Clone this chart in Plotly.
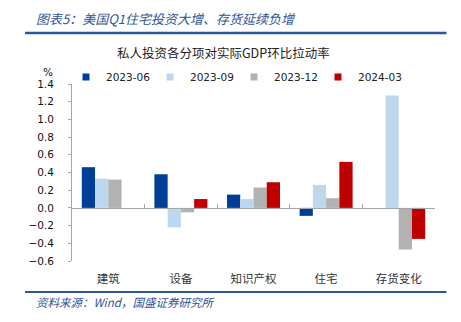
import plotly.graph_objects as go

categories = ["建筑", "设备", "知识产权", "住宅", "存货变化"]
series_names = ["2023-06", "2023-09", "2023-12", "2024-03"]
v_2023_06 = [0.46, 0.38, 0.15, -0.09, None]
v_2023_09 = [0.33, -0.22, 0.10, 0.26, 1.27]
v_2023_12 = [0.32, -0.05, 0.23, 0.11, -0.47]
v_2024_03 = [None, 0.10, 0.29, 0.52, -0.35]
series_values = [v_2023_06, v_2023_09, v_2023_12, v_2024_03]
colors = ["#003f98", "#bdd7ee", "#b2b2b2", "#c00000"]

title_text = "图表5：美国Q1住宅投资大增、存货延续负增"
subtitle_text = "私人投资各分项对实际GDP环比拉动率"
source_text = "资料来源：Wind，国盛证券研究所"
unit_text = "%"

W, H = 461, 322
L, R, T, B = 72, 25.5, 84, 61
pw, ph = W - L - R, H - T - B

num_font = "DejaVu Sans"
cjk_font = "Noto Sans CJK SC"
blue = "#2f5597"
axis_gray = "#a6a6a6"

fig = go.Figure()
for name, vals, c in zip(series_names, series_values, colors):
    fig.add_trace(go.Bar(x=categories, y=vals, name=name, marker=dict(color=c, line=dict(width=0)),
                         showlegend=False))
# legend entries with small square markers
for name, c in zip(series_names, colors):
    fig.add_trace(go.Scatter(x=[None], y=[None], mode="markers", name=name,
                             marker=dict(symbol="square", size=7, color=c)))
# helper axis for the zero line with category boundary ticks
fig.add_trace(go.Scatter(x=[None], y=[None], xaxis="x2", showlegend=False, hoverinfo="skip"))

def px_x(p):
    return (p - L) / pw

def px_y(p):
    return 1 - (p - T) / ph

fig.update_layout(
    width=W, height=H,
    margin=dict(l=L, r=R, t=T, b=B),
    paper_bgcolor="white", plot_bgcolor="white",
    barmode="group", bargap=0.27, bargroupgap=0,
    showlegend=True,
    legend=dict(orientation="h", x=px_x(66), xanchor="left", y=px_y(77), yanchor="middle",
                font=dict(family=num_font, size=10.5, color="#222"),
                entrywidth=39, entrywidthmode="pixels", itemwidth=30,
                bgcolor="rgba(0,0,0,0)", tracegroupgap=0),
    xaxis=dict(type="category", showline=False, ticks="", showgrid=False, zeroline=False,
               ticklabelstandoff=9,
               tickfont=dict(family=cjk_font, size=11.5, color="#333"), range=[-0.5, 4.5]),
    xaxis2=dict(overlaying="x", anchor="free", position=0.3, range=[-0.5, 4.5],
                tickvals=[-0.5, 0.5, 1.5, 2.5, 3.5, 4.5], ticks="inside", ticklen=4,
                tickcolor=axis_gray, showline=True, linecolor=axis_gray, linewidth=1,
                showticklabels=False, showgrid=False, zeroline=False),
    yaxis=dict(range=[-0.6, 1.4], dtick=0.2, tickformat=".1f", showgrid=False, zeroline=False,
               showline=True, linecolor=axis_gray, linewidth=1, ticks="outside", ticklen=3,
               tickcolor=axis_gray, ticklabelstandoff=12,
               tickfont=dict(family=num_font, size=10.5, color="#111")),
    font=dict(family=num_font),
)

fig.add_annotation(text=title_text, xref="paper", yref="paper", x=px_x(34), y=px_y(18),
                   xanchor="left", yanchor="middle", showarrow=False,
                   font=dict(family=cjk_font, size=13, color=blue, style="italic"))
fig.add_annotation(text=subtitle_text, xref="paper", yref="paper", x=px_x(224), y=px_y(53),
                   xanchor="center", yanchor="middle", showarrow=False,
                   font=dict(family=cjk_font, size=12.5, color="#222"))
fig.add_annotation(text=unit_text, xref="paper", yref="paper", x=px_x(48), y=px_y(72),
                   xanchor="center", yanchor="middle", showarrow=False,
                   font=dict(family=num_font, size=10.5, color="#111"))
fig.add_annotation(text=source_text, xref="paper", yref="paper", x=px_x(34), y=px_y(302),
                   xanchor="left", yanchor="middle", showarrow=False,
                   font=dict(family=cjk_font, size=11.5, color=blue, style="italic"))
fig.add_shape(type="line", xref="paper", yref="paper", x0=px_x(25), x1=px_x(447),
              y0=px_y(33), y1=px_y(33), line=dict(color=blue, width=2.5))
fig.add_shape(type="line", xref="paper", yref="paper", x0=px_x(25), x1=px_x(447),
              y0=px_y(292), y1=px_y(292), line=dict(color=blue, width=2))

fig.write_html("out.html")
